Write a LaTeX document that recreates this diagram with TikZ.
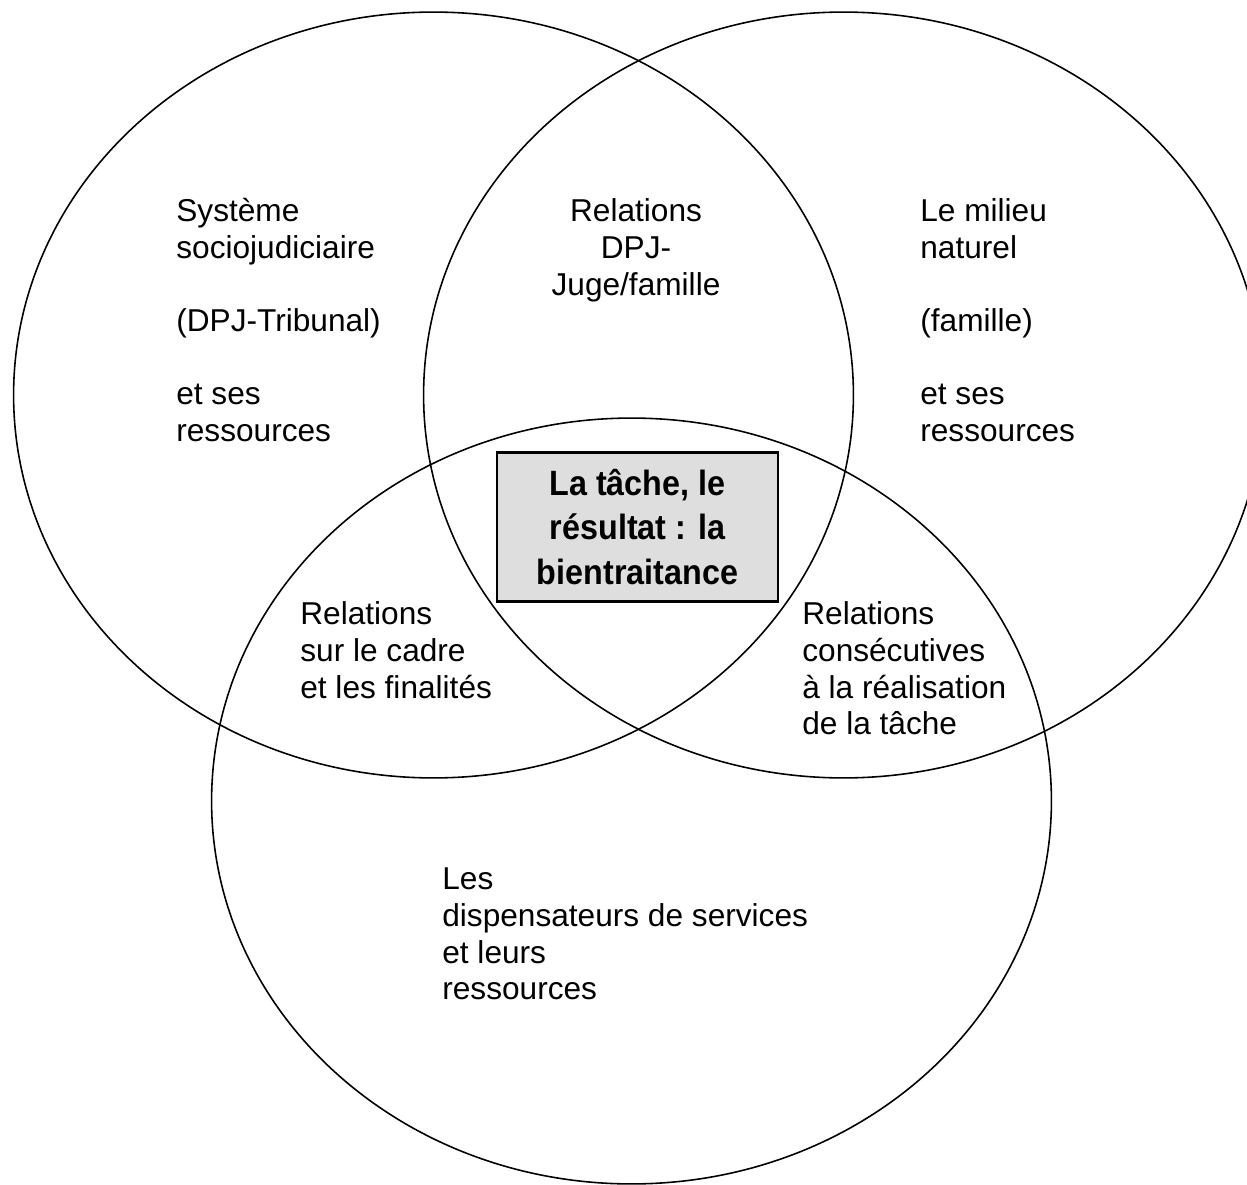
\documentclass[tikz,border=0pt]{standalone}
\usepackage{fontspec}
\setmainfont{Liberation Sans}
\newfontfamily\boxfont{Liberation Sans}[FakeStretch=0.92]
\tikzset{
  zone/.style={line width=0.9pt},
  ztext/.style={anchor=north west, align=left, inner sep=0pt,
    font=\fontsize{18}{20.8}\selectfont},
  tache/.style={draw, line width=1.2pt, fill=black!13, inner sep=0pt,
    minimum width=5.62cm, minimum height=2.98cm, align=center,
    font=\boxfont\bfseries\fontsize{20}{25.5}\selectfont}
}

\begin{document}
\begin{tikzpicture}[x=0.02cm,y=-0.02cm]
  \def\Rx{8.4cm};
  \def\Ry{7.66cm};
  \useasboundingbox (0,0) rectangle (1247,1185);

  % les trois systemes
  \draw[zone] (433.5,395) ellipse [x radius=\Rx, y radius=\Ry];
  \draw[zone] (843.5,395) ellipse [x radius=\Rx, y radius=\Ry];
  \draw[zone] (631.5,801) ellipse [x radius=\Rx, y radius=\Ry];

  \node[tache] (tache) at (637.5,527) {La tâche, le\\résultat : la\\bientraitance};

  \node[ztext] (socio) at (176,196)
    {\strut Système\\sociojudiciaire\\[20.8pt](DPJ-Tribunal)\\[20.8pt]et ses\\ressources};
  \node[ztext] (milieu) at (920,196)
    {\strut Le milieu\\naturel\\[20.8pt](famille)\\[20.8pt]et ses\\ressources};
  \node[ztext, anchor=north, align=center] (dpj) at (636,196)
    {\strut Relations\\DPJ-\\Juge/famille};
  \node[ztext] (cadre) at (300,599)
    {\strut Relations\\sur le cadre\\et les finalités};
  \node[ztext] (consec) at (802,599)
    {\strut Relations\\consécutives\\à la réalisation\\de la tâche};
  \node[ztext] (dispens) at (442,864)
    {\strut Les\\dispensateurs de services\\et leurs\\ressources};
\end{tikzpicture}
\end{document}
